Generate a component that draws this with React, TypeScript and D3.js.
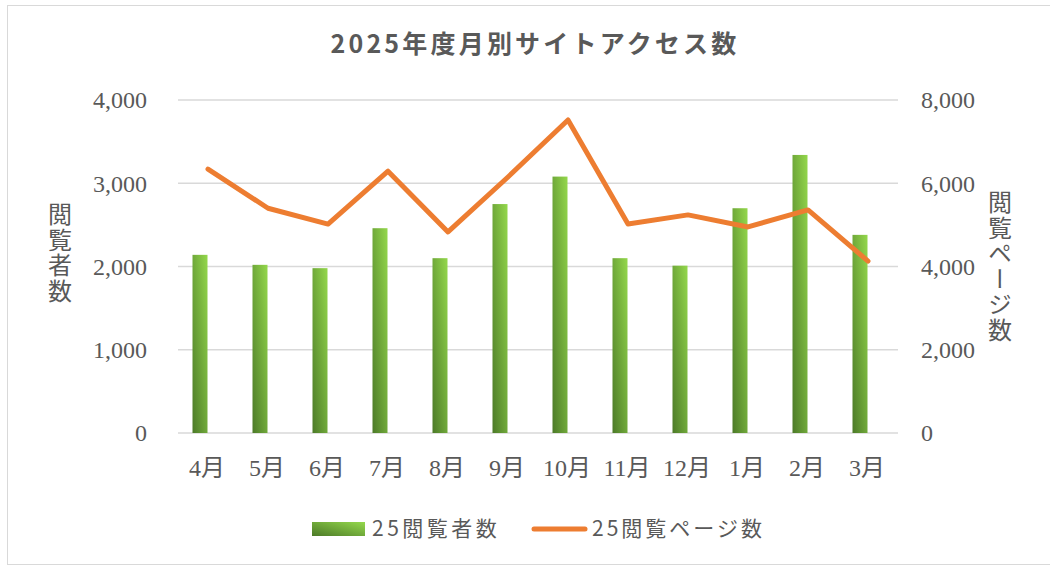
import React from "react";
import * as d3 from "d3";

const months = ["4月", "5月", "6月", "7月", "8月", "9月", "10月", "11月", "12月", "1月", "2月", "3月"];
const visitors = [2140, 2020, 1980, 2460, 2100, 2750, 3080, 2100, 2010, 2700, 3340, 2380];
const pageViews = [6340, 5400, 5020, 6290, 4830, 6150, 7520, 5020, 5240, 4950, 5360, 4130];
const leftTicks = [0, 1000, 2000, 3000, 4000];
const rightTicks = [0, 2000, 4000, 6000, 8000];
const title = "2025年度月別サイトアクセス数";
const leftTitle = "閲覧者数";
const rightTitle = "閲覧ページ数";
const legendBar = "25閲覧者数";
const legendLine = "25閲覧ページ数";

const W = 1050;
const H = 566;
const plotL = 178;
const plotR = 898;
const plotT = 100;
const plotB = 433;
const gray = "#595959";
const serif = "'Liberation Serif', 'Times New Roman', 'Noto Sans CJK JP', serif";
const sans = "'Noto Sans CJK JP', 'Noto Sans', sans-serif";
const fmt = d3.format(",");

export default function App() {
  const x = d3.scaleBand<string>().domain(months).range([plotL, plotR]).padding(0);
  const yL = d3.scaleLinear().domain([0, 4000]).range([plotB, plotT]);
  const yR = d3.scaleLinear().domain([0, 8000]).range([plotB, plotT]);
  const bw = x.bandwidth();
  const cx = (m: string) => (x(m) as number) + bw / 2;
  const line = d3
    .line<number>()
    .x((_, i) => cx(months[i]))
    .y((d) => yR(d));

  return (
    <svg
      width={W}
      height={H}
      style={{ position: "absolute", left: 0, top: 0, background: "#fff" }}
    >
      <defs>
        <linearGradient id="barGrad" x1="0" y1="1" x2="1" y2="0">
          <stop offset="0%" stopColor="#4c7a28" />
          <stop offset="100%" stopColor="#94d84c" />
        </linearGradient>
      </defs>
      <rect x={7.5} y={5.5} width={1060} height={559} fill="#fff" stroke="#d9d9d9" strokeWidth={1} />

      <text
        x={535}
        y={53}
        textAnchor="middle"
        fontFamily={sans}
        fontWeight={700}
        fontSize={25}
        letterSpacing={3.2}
        fill={gray}
      >
        {title}
      </text>

      {leftTicks.map((t) => (
        <line key={"g" + t} x1={plotL} x2={plotR} y1={yL(t)} y2={yL(t)} stroke="#d9d9d9" strokeWidth={1.5} />
      ))}

      {leftTicks.map((t) => (
        <text
          key={"l" + t}
          x={147}
          y={yL(t)}
          dy="0.35em"
          textAnchor="end"
          fontFamily={serif}
          fontSize={24}
          fill={gray}
        >
          {fmt(t)}
        </text>
      ))}
      {rightTicks.map((t) => (
        <text
          key={"r" + t}
          x={921}
          y={yR(t)}
          dy="0.35em"
          textAnchor="start"
          fontFamily={serif}
          fontSize={24}
          fill={gray}
        >
          {fmt(t)}
        </text>
      ))}

      {months.map((m, i) => (
        <rect
          key={"b" + m}
          x={cx(m) - 15.5}
          y={yL(visitors[i])}
          width={15}
          height={yL(0) - yL(visitors[i])}
          fill="url(#barGrad)"
        />
      ))}

      <path
        d={line(pageViews) || ""}
        fill="none"
        stroke="#ED7D31"
        strokeWidth={5}
        strokeLinejoin="round"
        strokeLinecap="round"
      />

      {months.map((m) => (
        <text
          key={"x" + m}
          x={cx(m) - 1}
          y={476}
          textAnchor="middle"
          fontFamily={serif}
          fontSize={24}
          fill={gray}
        >
          {m}
        </text>
      ))}

      <text
        x={60}
        y={202}
        fontFamily={sans}
        fontSize={24}
        letterSpacing={1.5}
        fill={gray}
        style={{ writingMode: "vertical-rl" } as any}
      >
        {leftTitle}
      </text>
      <text
        x={1000}
        y={190}
        fontFamily={sans}
        fontSize={24}
        letterSpacing={1.5}
        fill={gray}
        style={{ writingMode: "vertical-rl" } as any}
      >
        {rightTitle}
      </text>

      <rect x={312} y={522} width={53} height={14} fill="url(#barGrad)" />
      <text x={372} y={536} fontFamily={sans} fontSize={21} letterSpacing={3.5} fill={gray}>
        {legendBar}
      </text>
      <line x1={534} x2={585} y1={529} y2={529} stroke="#ED7D31" strokeWidth={5} strokeLinecap="round" />
      <text x={592} y={536} fontFamily={sans} fontSize={21} letterSpacing={3} fill={gray}>
        {legendLine}
      </text>
    </svg>
  );
}
